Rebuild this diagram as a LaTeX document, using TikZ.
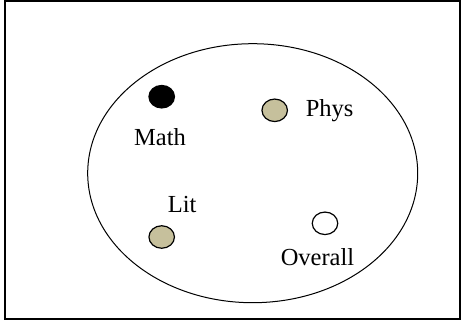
\documentclass[tikz,border=0pt]{standalone}
\usepackage{fontspec}
\setmainfont{Liberation Serif}
\usetikzlibrary{shapes.geometric}
\definecolor{tanfill}{RGB}{198,192,156}
\begin{document}
\begin{tikzpicture}[x=1pt,y=-1pt,
  dot/.style={draw=black,line width=1.2pt,ellipse,minimum width=25.5pt,minimum height=22.5pt,inner sep=0pt},
  lbl/.style={anchor=base,inner sep=0pt,font=\fontsize{24.5}{29}\selectfont}]
\useasboundingbox (0,0) rectangle (461,322);
\node[draw=black,line width=1.6pt,minimum width=455pt,minimum height=318pt,inner sep=0pt] (frame) at (232.5,160) {};
\node[draw=black,line width=1pt,ellipse,minimum width=330pt,minimum height=259pt,inner sep=0pt] (set) at (252.7,173.2) {};
\node[dot,fill=black] (math) at (161.7,96.7) {};
\node[dot,fill=tanfill] (phys) at (274.7,110.3) {};
\node[dot,fill=tanfill] (lit) at (161.7,237) {};
\node[dot,fill=white] (overall) at (325,223.3) {};
\node[lbl] (mathl) at (160,145.7) {Math};
\node[lbl] (physl) at (329.7,116.7) {Phys};
\node[lbl] (litl) at (182.2,212) {Lit};
\node[lbl] (overalll) at (317.5,265.7) {Overall};
\end{tikzpicture}
\end{document}
